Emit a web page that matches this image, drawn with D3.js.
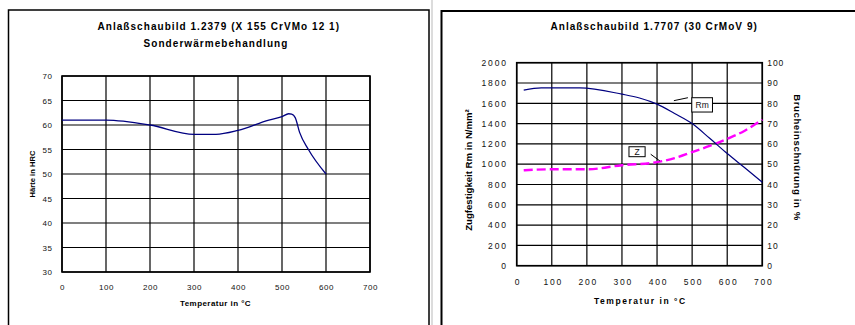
<!DOCTYPE html>
<html><head><meta charset="utf-8">
<script src="https://cdn.jsdelivr.net/npm/d3@7"></script>
<style>
html,body{margin:0;padding:0;background:#fff;}
svg{display:block;font-family:"Liberation Sans",Arial,sans-serif;}
</style></head>
<body>
<svg id="c" width="855" height="325"></svg>
<script>
// ---------- data: left chart (1.2379) ----------
const tempTicks = [0,100,200,300,400,500,600,700];
const hrcTicks = [30,35,40,45,50,55,60,65,70];
const hrcTemp = [0,100,200,300,350,400,470,500,515,522,530,540,560,600];
const hrcValue = [61,61,60,58.1,58.1,58.9,61,61.7,62.3,62.2,61.5,58.5,55,50];

// ---------- data: right chart (1.7707) ----------
const rmTicks = [0,200,400,600,800,1000,1200,1400,1600,1800,2000];
const zTicks = [0,10,20,30,40,50,60,70,80,90,100];
const rmTemp = [20,70,180,300,350,400,450,500,550,600,650,700];
const rmValue = [1730,1752,1752,1690,1652,1592,1500,1400,1255,1105,965,822];
const zTemp = [20,100,200,300,400,450,500,550,600,650,700];
const zValue = [47,47.5,47.5,49.5,51,53,56,59,62.5,66.5,72];
// annotation labels: [temp, value] box corners and leader ends
const rmLabel = {text:"Rm", box:[499,558,1655,1514], leader:[448,1626,488,1655]};
const zLabel = {text:"Z", box:[320,366,58.6,53.7], leader:[382,54.9,408,51.6]};

const svg = d3.select("#c");
const FONT = '"Liberation Sans",Arial,sans-serif';

// frames
svg.append("rect").attr("x",8.5).attr("y",10).attr("width",420.5).attr("height",330)
  .attr("fill","none").attr("stroke","#000").attr("stroke-width",1.5);
svg.append("line").attr("x1",432).attr("x2",432).attr("y1",0).attr("y2",325)
  .attr("stroke","#dcdcdc").attr("stroke-width",2);
svg.append("rect").attr("x",441.5).attr("y",11).attr("width",430).attr("height",330)
  .attr("fill","none").attr("stroke","#000").attr("stroke-width",2);

function title(x,y,t){
  svg.append("text").attr("x",x).attr("y",y).attr("text-anchor","middle")
    .attr("font-size",10).attr("font-weight","bold").attr("letter-spacing",1.05)
    .attr("fill","#000").text(t);
}
title(218.8,29.5,"Anlaßschaubild 1.2379 (X 155 CrVMo 12 1)");
title(216,46.5,"Sonderwärmebehandlung");
title(654.2,30,"Anlaßschaubild 1.7707 (30 CrMoV 9)");

// ---------- left chart ----------
const xL = d3.scaleLinear().domain([0,700]).range([62,370]);
const yL = d3.scaleLinear().domain([30,70]).range([272,76]);
const gL = svg.append("g");
gL.selectAll("line.v").data(tempTicks).join("line")
  .attr("x1",d=>xL(d)).attr("x2",d=>xL(d)).attr("y1",yL(30)).attr("y2",yL(70))
  .attr("stroke","#000").attr("stroke-width",1.2);
gL.selectAll("line.h").data(hrcTicks).join("line")
  .attr("x1",xL(0)).attr("x2",xL(700)).attr("y1",d=>yL(d)).attr("y2",d=>yL(d))
  .attr("stroke","#000").attr("stroke-width",1.2);
gL.append("rect").attr("x",xL(0)).attr("y",yL(70)).attr("width",xL(700)-xL(0)).attr("height",yL(30)-yL(70))
  .attr("fill","none").attr("stroke","#000").attr("stroke-width",1.6);

const axLx = gL.append("g").attr("transform",`translate(0,${yL(30)})`)
  .call(d3.axisBottom(xL).tickValues(tempTicks).tickFormat(d3.format("d")).tickSize(0).tickPadding(12));
const axLy = gL.append("g").attr("transform",`translate(${xL(0)},0)`)
  .call(d3.axisLeft(yL).tickValues(hrcTicks).tickFormat(d3.format("d")).tickSize(0).tickPadding(9.5));
[axLx,axLy].forEach(a=>{a.select(".domain").remove();
  a.selectAll("text").attr("font-family",FONT).attr("font-size",8).attr("fill","#111").attr("letter-spacing",0.5);});

gL.append("text").attr("x",215.5).attr("y",306).attr("text-anchor","middle")
  .attr("font-size",8).attr("font-weight","bold").attr("letter-spacing",0.45).text("Temperatur in °C");
gL.append("text").attr("transform",`translate(34.5,${(yL(30)+yL(70))/2}) rotate(-90)`)
  .attr("text-anchor","middle").attr("font-size",7.6).attr("font-weight","bold").text("Härte in HRC");

const hrcData = hrcTemp.map((t,i)=>[t,hrcValue[i]]);
gL.append("path").datum(hrcData)
  .attr("d",d3.line().x(d=>xL(d[0])).y(d=>yL(d[1])).curve(d3.curveMonotoneX))
  .attr("fill","none").attr("stroke","#000080").attr("stroke-width",1.3);

// ---------- right chart ----------
const xR = d3.scaleLinear().domain([0,700]).range([516.7,762.3]);
const yR = d3.scaleLinear().domain([0,2000]).range([265.7,62.7]);
const yR2 = d3.scaleLinear().domain([0,100]).range([265.7,62.7]);
const gR = svg.append("g");
gR.selectAll("line.v").data(tempTicks).join("line")
  .attr("x1",d=>xR(d)).attr("x2",d=>xR(d)).attr("y1",yR(0)).attr("y2",yR(2000))
  .attr("stroke","#000").attr("stroke-width",1.2);
gR.selectAll("line.h").data(rmTicks).join("line")
  .attr("x1",xR(0)).attr("x2",xR(700)).attr("y1",d=>yR(d)).attr("y2",d=>yR(d))
  .attr("stroke","#000").attr("stroke-width",1.2);
gR.append("rect").attr("x",xR(0)).attr("y",yR(2000)).attr("width",xR(700)-xR(0)).attr("height",yR(0)-yR(2000))
  .attr("fill","none").attr("stroke","#000").attr("stroke-width",1.6);

const axRx = gR.append("g").attr("transform",`translate(0,${yR(0)})`)
  .call(d3.axisBottom(xR).tickValues(tempTicks).tickFormat(d3.format("d")).tickSize(0).tickPadding(13));
const axRy = gR.append("g").attr("transform",`translate(${xR(0)},0)`)
  .call(d3.axisLeft(yR).tickValues(rmTicks).tickFormat(d3.format("d")).tickSize(0).tickPadding(9));
const axRy2 = gR.append("g").attr("transform",`translate(${xR(700)},0)`)
  .call(d3.axisRight(yR2).tickValues(zTicks).tickFormat(d3.format("d")).tickSize(0).tickPadding(5));
[axRx,axRy,axRy2].forEach(a=>{a.select(".domain").remove();
  a.selectAll("text").attr("font-family",FONT).attr("font-size",8.5).attr("fill","#111");});
axRx.selectAll("text").attr("letter-spacing",1.8).attr("dx",0.9);
axRy.selectAll("text").attr("letter-spacing",1.8);
axRy2.selectAll("text").attr("letter-spacing",0.9);

gR.append("text").attr("x",640.3).attr("y",304).attr("text-anchor","middle")
  .attr("font-size",8.5).attr("font-weight","bold").attr("letter-spacing",1.55).text("Temperatur in °C");
gR.append("text").attr("transform",`translate(471.5,170) rotate(-90)`)
  .attr("text-anchor","middle").attr("font-size",9.6).attr("font-weight","bold").text("Zugfestigkeit Rm in N/mm²");
gR.append("text").attr("transform",`translate(793.5,157.5) rotate(90)`)
  .attr("text-anchor","middle").attr("font-size",9.6).attr("font-weight","bold").attr("letter-spacing",0.6).text("Brucheinschnürung in %");

const zData = zTemp.map((t,i)=>[t,zValue[i]]);
gR.append("path").datum(zData)
  .attr("d",d3.line().x(d=>xR(d[0])).y(d=>yR2(d[1])).curve(d3.curveMonotoneX))
  .attr("fill","none").attr("stroke","#ff00ff").attr("stroke-width",2.4).attr("stroke-dasharray","9,4");
const rmData = rmTemp.map((t,i)=>[t,rmValue[i]]);
gR.append("path").datum(rmData)
  .attr("d",d3.line().x(d=>xR(d[0])).y(d=>yR(d[1])).curve(d3.curveMonotoneX))
  .attr("fill","none").attr("stroke","#000080").attr("stroke-width",1.2);

function label(L,ys){
  const [t0,t1,v0,v1]=L.box;
  gR.append("line").attr("x1",xR(L.leader[0])).attr("y1",ys(L.leader[1]))
    .attr("x2",xR(L.leader[2])).attr("y2",ys(L.leader[3])).attr("stroke","#000").attr("stroke-width",1);
  gR.append("rect").attr("x",xR(t0)).attr("y",ys(v0)).attr("width",xR(t1)-xR(t0)).attr("height",ys(v1)-ys(v0))
    .attr("fill","#fff").attr("stroke","#000").attr("stroke-width",1);
  gR.append("text").attr("x",(xR(t0)+xR(t1))/2).attr("y",(ys(v0)+ys(v1))/2).attr("dy","0.35em")
    .attr("text-anchor","middle").attr("font-size",8.5).attr("fill","#111").text(L.text);
}
label(rmLabel,yR);
label(zLabel,yR2);
</script>
</body></html>
